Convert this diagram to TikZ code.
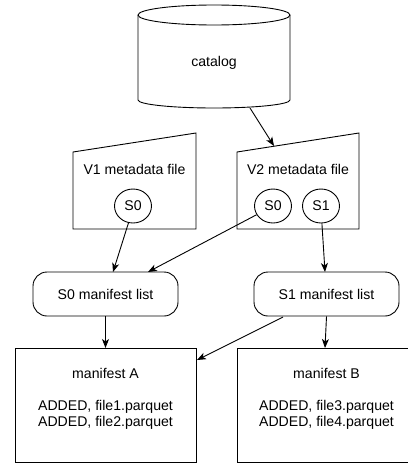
\documentclass[tikz,border=0pt]{standalone}
\usepackage{fontspec}
\setmainfont{Liberation Sans}
\usetikzlibrary{arrows.meta,shapes.geometric}
\begin{document}
\begin{tikzpicture}[x=1pt,y=-1pt,line width=0.9pt,
  lbl/.style={font=\fontsize{14.1}{16.5}\selectfont,inner sep=0pt},
  arr/.style={-{Stealth[length=9pt,width=7pt,inset=2.5pt]}},
  snap/.style={draw,ellipse,minimum width=37pt,minimum height=34pt,inner sep=0pt,font=\fontsize{14.1}{16.5}\selectfont},
  mlist/.style={draw,rounded corners=14pt,minimum width=145pt,minimum height=44pt,font=\fontsize{14.1}{16.5}\selectfont}]
\useasboundingbox (0,0) rectangle (407,463);
% catalog cylinder
\draw (138,15) -- (138,100) arc[start angle=180,end angle=0,x radius=76,y radius=8] -- (290,15);
\draw (214,15) ellipse[x radius=76,y radius=10];
\node[lbl] (cat) at (214,63) {catalog};
\coordinate (catb) at (250,108);
% V1 metadata file
\draw (73,152) -- (196,133) -- (196,229) -- (73,229) -- cycle;
\node[lbl] (v1t) at (134.5,169) {V1 metadata file};
\node[snap] (v1s0) at (133,206) {S0};
% V2 metadata file
\draw (237,152) -- (359,133) -- (359,229) -- (237,229) -- cycle;
\node[lbl] (v2t) at (298,169) {V2 metadata file};
\node[snap] (v2s0) at (273,206) {S0};
\node[snap] (v2s1) at (321,206) {S1};
\coordinate (v2top) at (274,146);
% manifest lists
\node[mlist] (l0) at (105.5,294) {S0 manifest list};
\node[mlist] (l1) at (326.5,294) {S1 manifest list};
% manifests
\draw (15,348) rectangle (196,462);
\node[lbl] (ma) at (105.5,373) {manifest A};
\node[lbl,align=center] (maf) at (105.5,415) {ADDED, file1.parquet\\ADDED, file2.parquet};
\draw (237,348) rectangle (420,462);
\node[lbl] (mb) at (326.5,373) {manifest B};
\node[lbl,align=center] (mbf) at (326.5,415) {ADDED, file3.parquet\\ADDED, file4.parquet};
\coordinate (l0in1) at (113,272);
\coordinate (l0in2) at (148,272);
\coordinate (l1in) at (325,272);
\coordinate (l1out) at (283,317);
\coordinate (matop) at (105.5,348);
\coordinate (mbtop) at (325,348);
\coordinate (maside) at (197,360);
% connectors
\draw[arr] (catb) -- (v2top);
\draw[arr] (v1s0.-105) -- (l0in1);
\draw[arr] (v2s0.-152) -- (l0in2);
\draw[arr] (v2s1.-87) -- (l1in);
\draw[arr] (l0.south) -- (matop);
\draw[arr] (l1.south) -- (mbtop);
\draw[arr] (l1out) -- (maside);
\end{tikzpicture}
\end{document}
